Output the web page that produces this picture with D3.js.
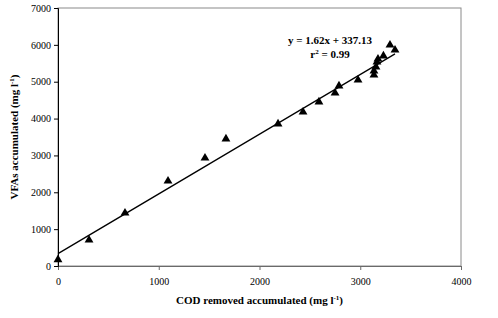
<!DOCTYPE html>
<html>
<head>
<meta charset="utf-8">
<script src="https://cdn.jsdelivr.net/npm/d3@7"></script>
<style>
  body { margin: 0; background: #fff; }
  text { font-family: "Liberation Serif", "Times New Roman", serif; }
</style>
</head>
<body>
<svg id="chart" width="498" height="318"></svg>
<script>
// data
const codRemoved = [0, 308, 665, 1092, 1459, 1667, 2184, 2432, 2590, 2750, 2789, 2978, 3136, 3136, 3156, 3166, 3176, 3230, 3295, 3345];
const vfaAccum = [170, 705, 1438, 2306, 2930, 3446, 3853, 4178, 4450, 4694, 4884, 5046, 5182, 5290, 5400, 5535, 5616, 5700, 5996, 5860];
const xTicks = [0, 1000, 2000, 3000, 4000];
const yTicks = [0, 1000, 2000, 3000, 4000, 5000, 6000, 7000];
const slope = 1.62, intercept = 337.13;

const svg = d3.select("#chart");
const margin = { top: 8, right: 37, bottom: 52, left: 58 };
const width = +svg.attr("width") - margin.left - margin.right;
const height = +svg.attr("height") - margin.top - margin.bottom;
const g = svg.append("g").attr("transform", `translate(${margin.left},${margin.top})`);

const x = d3.scaleLinear().domain([0, 4000]).range([0, width]);
const y = d3.scaleLinear().domain([0, 7000]).range([height, 0]);

// frame
g.append("rect")
    .attr("width", width).attr("height", height)
    .attr("fill", "none").attr("stroke", "#8a8a8a").attr("stroke-width", 1);

// X axis
const xAxis = g.append("g")
    .attr("transform", `translate(0,${height})`)
    .call(d3.axisBottom(x).tickValues(xTicks).tickSize(4).tickPadding(8).tickFormat(d3.format("d")));
xAxis.select(".domain").attr("stroke", "#6a6a6a");
xAxis.selectAll(".tick line").attr("stroke", "#6a6a6a");
xAxis.selectAll("text").attr("font-size", 10).attr("font-family", "Liberation Serif").attr("fill", "#000");

// Y axis
const yAxis = g.append("g")
    .call(d3.axisLeft(y).tickValues(yTicks).tickSize(4).tickPadding(3).tickFormat(d3.format("d")));
yAxis.select(".domain").attr("stroke", "#000");
yAxis.selectAll(".tick line").attr("stroke", "#000");
yAxis.selectAll("text").attr("font-size", 10).attr("font-family", "Liberation Serif").attr("fill", "#000");

// regression line
const xMax = d3.max(codRemoved);
g.append("line")
    .attr("x1", x(0)).attr("y1", y(intercept))
    .attr("x2", x(xMax)).attr("y2", y(slope * xMax + intercept))
    .attr("stroke", "#000").attr("stroke-width", 1.3);

// points
const tri = d3.symbol().type(d3.symbolTriangle).size(34);
g.selectAll(".pt")
    .data(codRemoved.map((c, i) => [c, vfaAccum[i]]))
    .enter()
    .append("path")
    .attr("class", "pt")
    .attr("d", tri)
    .attr("transform", d => `translate(${x(d[0])},${y(d[1])})`)
    .attr("fill", "#000");

// equation
const eq = g.append("text")
    .attr("x", 272).attr("y", 36)
    .attr("text-anchor", "middle")
    .attr("font-size", 11).attr("font-weight", "bold");
eq.append("tspan").text(`y = ${slope}x + ${intercept}`);
const r2 = g.append("text")
    .attr("x", 272).attr("y", 50)
    .attr("text-anchor", "middle")
    .attr("font-size", 11).attr("font-weight", "bold");
r2.append("tspan").text("r");
r2.append("tspan").attr("font-size", 7).attr("dy", -4).text("2");
r2.append("tspan").attr("dy", 4).text(" = 0.99");

// axis titles
const xt = svg.append("text")
    .attr("x", margin.left + width / 2).attr("y", 304)
    .attr("text-anchor", "middle")
    .attr("font-size", 11).attr("font-weight", "bold");
xt.append("tspan").text("COD removed accumulated (mg l");
xt.append("tspan").attr("font-size", 7).attr("dy", -4).text("-1");
xt.append("tspan").attr("dy", 4).text(")");

const yt = svg.append("text")
    .attr("transform", `translate(18,${margin.top + height / 2}) rotate(-90)`)
    .attr("text-anchor", "middle")
    .attr("font-size", 11).attr("font-weight", "bold");
yt.append("tspan").text("VFAs accumulated (mg l");
yt.append("tspan").attr("font-size", 7).attr("dy", -4).text("-1");
yt.append("tspan").attr("dy", 4).text(")");
</script>
</body>
</html>
